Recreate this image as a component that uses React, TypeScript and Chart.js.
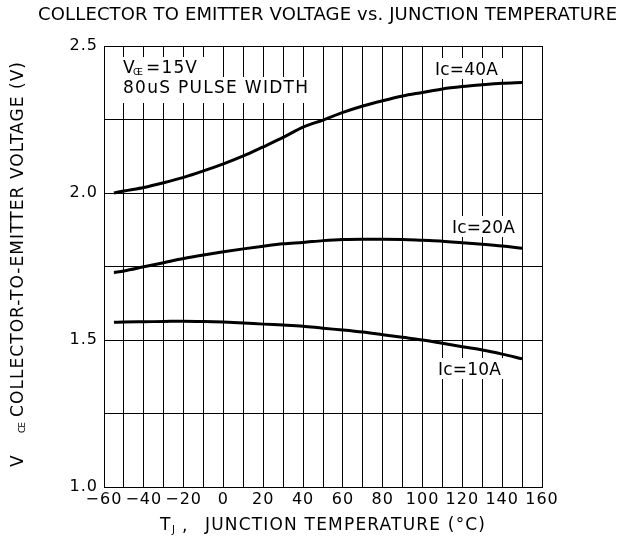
import React, { useEffect, useRef } from "react";
import { Chart, registerables } from "chart.js";

Chart.register(...registerables);

const FONT = '"DejaVu Sans", "Liberation Sans", Arial, sans-serif';

// Junction temperature (°C)
const temperatureC = [-55, -50, -40, -30, -20, -10, 0, 10, 20, 30, 40, 50, 60, 70, 80, 90, 100, 110, 120, 130, 140, 150];

// Collector-to-emitter voltage (V)
const vce40A = [2.0, 2.007, 2.019, 2.035, 2.053, 2.075, 2.099, 2.126, 2.157, 2.189, 2.224, 2.248, 2.274, 2.296, 2.314, 2.33, 2.342, 2.354, 2.362, 2.368, 2.373, 2.376];
const vce20A = [1.729, 1.735, 1.749, 1.763, 1.777, 1.789, 1.8, 1.81, 1.819, 1.827, 1.832, 1.838, 1.842, 1.843, 1.843, 1.842, 1.839, 1.836, 1.831, 1.826, 1.82, 1.812];
const vce10A = [1.56, 1.561, 1.562, 1.563, 1.564, 1.563, 1.561, 1.558, 1.554, 1.551, 1.547, 1.54, 1.534, 1.527, 1.518, 1.509, 1.5, 1.489, 1.477, 1.466, 1.452, 1.436];

const seriesLabels = ["Ic=40A", "Ic=20A", "Ic=10A"];

const xMin = -60;
const xMax = 160;
const xGridStep = 10;
const xLabelStep = 20;
const yMin = 1.0;
const yMax = 2.5;
const yGridStep = 0.25;
const yLabelStep = 0.5;

const titleText = "COLLECTOR TO EMITTER VOLTAGE vs. JUNCTION TEMPERATURE";
const yTitleMain = "COLLECTOR-TO-EMITTER VOLTAGE (V)";
const xTitleMain = "JUNCTION TEMPERATURE (°C)";
const noteLine2 = "80uS PULSE WIDTH";

function fitText(
  ctx: CanvasRenderingContext2D,
  text: string,
  x: number,
  y: number,
  width: number,
  size: number
) {
  ctx.save();
  ctx.font = `${size}px ${FONT}`;
  (ctx as any).letterSpacing = "0px";
  const natural = ctx.measureText(text).width;
  const n = Array.from(text).length;
  const ls = n > 1 ? (width - natural) / (n - 1) : 0;
  (ctx as any).letterSpacing = `${ls}px`;
  ctx.textAlign = "left";
  ctx.textBaseline = "middle";
  ctx.fillStyle = "#000";
  ctx.fillText(text, x, y);
  ctx.restore();
}

function whiteBox(ctx: CanvasRenderingContext2D, x0: number, y0: number, x1: number, y1: number) {
  ctx.save();
  ctx.fillStyle = "#fff";
  ctx.fillRect(x0, y0, x1 - x0, y1 - y0);
  ctx.restore();
}

const textPlugin = {
  id: "datasheetTexts",
  beforeDraw(chart: any) {
    const ctx = chart.ctx as CanvasRenderingContext2D;
    ctx.save();
    ctx.fillStyle = "#fff";
    ctx.fillRect(0, 0, chart.width, chart.height);
    ctx.restore();
    (ctx as any).letterSpacing = "1px";
  },
  afterDatasetsDraw(chart: any) {
    const ctx = chart.ctx as CanvasRenderingContext2D;
    (ctx as any).letterSpacing = "0px";

    // Title
    fitText(ctx, titleText, 38, 15, 579, 18);

    // Annotation boxes inside plot
    whiteBox(ctx, 121, 57, 204, 77);
    whiteBox(ctx, 121, 77, 312, 103);
    fitText(ctx, "V", 123, 69, 10, 17);
    fitText(ctx, "GE", 133, 73, 10, 9);
    fitText(ctx, "=15V", 146, 69, 51, 17);
    fitText(ctx, noteLine2, 123, 89, 185, 17);

    // Curve labels
    const labelPos = [
      { x: 435, y: 71 },
      { x: 452, y: 229 },
      { x: 438, y: 371 },
    ];
    seriesLabels.forEach((lab, i) => {
      const p = labelPos[i];
      whiteBox(ctx, p.x - 6, p.y - 13, p.x + 69, p.y + 8);
      fitText(ctx, lab, p.x, p.y, 63, 17);
    });

    // X axis title
    fitText(ctx, "T", 160, 526, 10, 17);
    fitText(ctx, "J", 172, 530, 5, 10);
    fitText(ctx, ",", 182, 527, 4, 17);
    fitText(ctx, xTitleMain, 205, 526, 280, 17);

    // Y axis title (rotated)
    ctx.save();
    ctx.translate(18.5, 0);
    ctx.rotate(-Math.PI / 2);
    fitText(ctx, "V", -467, 0, 12, 17);
    fitText(ctx, "CE", -433, 4.5, 11, 9);
    fitText(ctx, yTitleMain, -417, 0, 355, 17);
    ctx.restore();
  },
};

function App() {
  const canvasRef = useRef<HTMLCanvasElement | null>(null);

  useEffect(() => {
    document.body.style.margin = "0";
    const canvas = canvasRef.current;
    if (!canvas) return;
    const lineDs = (label: string, data: number[]) => ({
      label,
      data: temperatureC.map((t, i) => ({ x: t, y: data[i] })),
      borderColor: "#000",
      backgroundColor: "#000",
      borderWidth: 3,
      pointRadius: 0,
      tension: 0.4,
      cubicInterpolationMode: "monotone" as const,
      borderCapStyle: "butt" as const,
      fill: false,
    });

    const chart = new Chart(canvas, {
      type: "line",
      data: {
        datasets: [
          lineDs(seriesLabels[0], vce40A),
          lineDs(seriesLabels[1], vce20A),
          lineDs(seriesLabels[2], vce10A),
        ],
      },
      options: {
        animation: false,
        responsive: false,
        devicePixelRatio: 1,
        layout: { padding: { top: 46, right: 80, bottom: 0, left: 0 } },
        plugins: {
          legend: { display: false },
          tooltip: { enabled: false },
          title: { display: false },
        },
        scales: {
          x: {
            type: "linear",
            min: xMin,
            max: xMax,
            afterFit: (scale: any) => {
              scale.height = 55;
            },
            afterBuildTicks: (scale: any) => {
              const ticks = [];
              for (let v = xMin; v <= xMax + 1e-9; v += xGridStep) ticks.push({ value: v });
              scale.ticks = ticks;
            },
            ticks: {
              autoSkip: false,
              maxRotation: 0,
              padding: 3,
              color: "#000",
              font: { family: FONT, size: 16 },
              callback: (v: any) => {
                const n = Number(v);
                if (Math.round(n) % xLabelStep !== 0) return "";
                return n < 0 ? "\u2212" + Math.abs(n) : String(n);
              },
            },
            grid: {
              color: "#000",
              lineWidth: 1,
              drawTicks: false,
            },
            border: { color: "#000", width: 1 },
          },
          y: {
            type: "linear",
            min: yMin,
            max: yMax,
            afterFit: (scale: any) => {
              scale.width = 104;
            },
            afterBuildTicks: (scale: any) => {
              const ticks = [];
              for (let v = yMin; v <= yMax + 1e-9; v += yGridStep) ticks.push({ value: Math.round(v * 100) / 100 });
              scale.ticks = ticks;
            },
            ticks: {
              autoSkip: false,
              padding: 6,
              color: "#000",
              font: { family: FONT, size: 16 },
              callback: (v: any) => {
                const n = Number(v);
                const k = n / yLabelStep;
                if (Math.abs(k - Math.round(k)) > 1e-6) return "";
                return n.toFixed(1);
              },
            },
            grid: {
              color: "#000",
              lineWidth: 1,
              drawTicks: false,
            },
            border: { color: "#000", width: 1 },
          },
        },
      },
      plugins: [textPlugin],
    });
    return () => chart.destroy();
  }, []);

  return (
    <div style={{ position: "absolute", left: 0, top: 0, width: 622, height: 542 }}>
      <canvas ref={canvasRef} width={622} height={542} style={{ display: "block", width: 622, height: 542 }} />
    </div>
  );
}

export default App;
